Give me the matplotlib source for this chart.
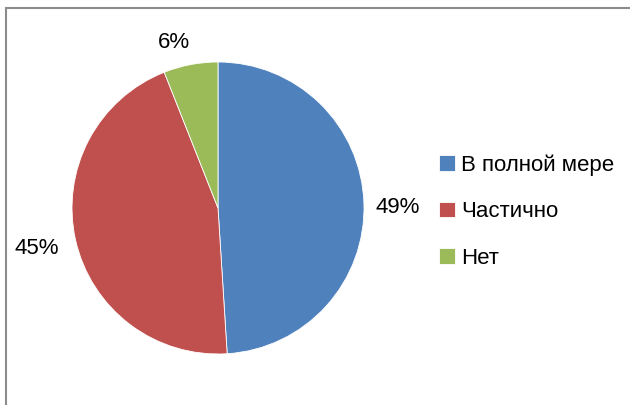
import numpy as np
import matplotlib.pyplot as plt
from matplotlib.patches import Rectangle

labels = ['В полной мере', 'Частично', 'Нет']
values = [49, 45, 6]
colors = ['#4F81BD', '#C0504D', '#9BBB59']

plt.rcParams['font.family'] = ['Liberation Sans Narrow', 'Liberation Sans', 'DejaVu Sans']

fig = plt.figure(figsize=(6.3, 4.05), dpi=100)
W, H = 630, 405

# chart frame (cropped at right and bottom)
fig.patches.append(Rectangle((6 / W, -0.1), 1.2, 1 - 8 / H + 0.1, transform=fig.transFigure,
                             fill=False, edgecolor='#8c8c8c', linewidth=1.5))

cx, cy, r = 218, 208, 146
ax = fig.add_axes([(cx - r) / W, (H - cy - r) / H, 2 * r / W, 2 * r / H])
wedges, texts, autotexts = ax.pie(values, colors=colors, startangle=90, counterclock=False,
                                  autopct='%d%%', pctdistance=1.22,
                                  wedgeprops=dict(edgecolor='white', linewidth=0.6),
                                  textprops=dict(fontsize=16, color='black'))
# label placement like excel's outside-end labels
dist = [1.23, 1.27, 1.17]
shift = [-1.5, 0, 4]
for w, t, d, s in zip(wedges, autotexts, dist, shift):
    a = np.deg2rad((w.theta1 + w.theta2) / 2 + s)
    t.set_position((d * np.cos(a), d * np.sin(a)))
ax.set_xlim(-1, 1)
ax.set_ylim(-1, 1)

fig.legend(wedges, labels, loc='upper left', bbox_to_anchor=(428 / W, 1 - 143 / H),
           frameon=False, fontsize=16, handlelength=0.7, handleheight=0.7,
           handletextpad=0.3, labelspacing=1.15, borderpad=0)

fig.savefig('out.png', dpi=100)
